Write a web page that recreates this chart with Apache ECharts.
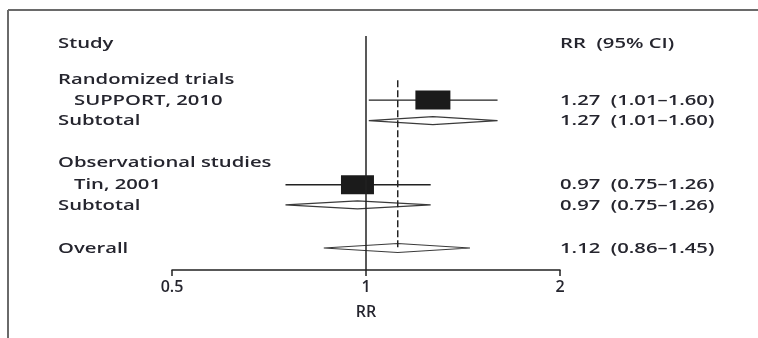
<!DOCTYPE html>
<html><head><meta charset="utf-8">
<script src="https://cdn.jsdelivr.net/npm/echarts@6/dist/echarts.min.js"></script>
<style>html,body{margin:0;padding:0;background:#fff}#c{width:758px;height:338px}</style>
</head><body><div id="c"></div>
<script>
// ---- data ----
const rowLabels = ["Study","Randomized trials","SUPPORT, 2010","Subtotal","Observational studies","Tin, 2001","Subtotal","Overall"];
const rowKinds  = ["header","group","study","subtotal","group","study","subtotal","overall"];
const rrValues  = [null,null,1.27,1.27,null,0.97,0.97,1.12];
const ciLower   = [null,null,1.01,1.01,null,0.75,0.75,0.86];
const ciUpper   = [null,null,1.60,1.60,null,1.26,1.26,1.45];
const ciHeader  = "RR  (95% CI)";
const xTickValues = [0.5, 1, 2];
const xAxisTitle = "RR";

// ---- layout ----
const rowPos = [0, 1.75, 2.77, 3.77, 5.79, 6.88, 7.86, 9.95];
const squareSize = {2: [35, 19], 5: [33, 19]};
const GRID_TOP = 36, GRID_H = 234, PITCH = 20.6;
const Y_MIN = -0.34, Y_MAX = Y_MIN + GRID_H / PITCH;
const TXT = '#25252e';
const FONT = '"Open Sans", "Noto Sans", sans-serif';
const SX = 1.35;

const overallIdx = rowKinds.indexOf('overall');
const marks = [];
rowKinds.forEach((k, i) => {
  if (rrValues[i] != null) marks.push([rrValues[i], rowPos[i], ciLower[i], ciUpper[i], k, i]);
});

const chart = echarts.init(document.getElementById('c'), null, {renderer: 'canvas'});
chart.setOption({
  animation: false,
  backgroundColor: '#fff',
  grid: {left: 172, right: 758 - 560, top: GRID_TOP, height: GRID_H},
  xAxis: {
    type: 'log', logBase: 2, min: 0.5, max: 2, interval: 1, position: 'bottom',
    axisLine: {show: true, onZero: false, lineStyle: {color: '#222', width: 1.5}},
    axisTick: {show: true, length: 6, lineStyle: {color: '#222', width: 1.5}},
    splitLine: {show: false},
    axisLabel: {
      color: TXT, fontFamily: FONT, fontSize: 16, fontWeight: 600, margin: 9,
      formatter: v => { const m = xTickValues.find(t => Math.abs(t - v) < 1e-6); return m != null ? String(m) : ''; }
    },
    name: xAxisTitle, nameLocation: 'middle', nameGap: 34,
    nameTextStyle: {color: TXT, fontFamily: FONT, fontSize: 16, fontWeight: 600}
  },
  yAxis: {type: 'value', inverse: true, min: Y_MIN, max: Y_MAX, show: false},
  series: [
    {
      type: 'custom', z: 2, silent: true,
      data: marks,
      renderItem: function (params, api) {
        const rr = api.value(0), y = api.value(1), lo = api.value(2), hi = api.value(3);
        const kind = marks[params.dataIndex][4], idx = marks[params.dataIndex][5];
        const c = api.coord([rr, y]), l = api.coord([lo, y]), h = api.coord([hi, y]);
        if (kind === 'study') {
          const sz = squareSize[idx];
          return {type: 'group', children: [
            {type: 'line', shape: {x1: l[0], y1: c[1], x2: h[0], y2: c[1]}, style: {stroke: '#222', lineWidth: 1.3}},
            {type: 'rect', shape: {x: c[0] - sz[0] / 2, y: c[1] - sz[1] / 2, width: sz[0], height: sz[1]}, style: {fill: '#1b1b1b'}}
          ]};
        }
        const hh = kind === 'overall' ? 4.5 : 4;
        return {type: 'polygon', shape: {points: [[l[0], c[1]], [c[0], c[1] - hh], [h[0], c[1]], [c[0], c[1] + hh]]},
          style: {fill: 'rgba(255,255,255,0)', stroke: '#3a3a3a', lineWidth: 1.1}};
      },
      markLine: {
        silent: true, symbol: 'none', label: {show: false},
        lineStyle: {color: '#222', width: 1.5, type: 'solid'},
        data: [{xAxis: 1}]
      }
    },
    {
      type: 'line', z: 3, silent: true, symbol: 'none',
      lineStyle: {color: '#222', width: 1.5, type: [7, 3]},
      data: [[rrValues[overallIdx], rowPos[1] + 0.06], [rrValues[overallIdx], rowPos[overallIdx] + 0.1]]
    }
  ]
});

// text columns placed on the row scale
const fmt = v => v.toFixed(2);
const gfx = [
  {type: 'line', shape: {x1: 8, y1: 10, x2: 758, y2: 10}, style: {stroke: '#6a6a6a', lineWidth: 2}},
  {type: 'line', shape: {x1: 8, y1: 10, x2: 8, y2: 338}, style: {stroke: '#6a6a6a', lineWidth: 2}}
];
const FSTR = '600 15px ' + FONT;
rowLabels.forEach((lab, i) => {
  const py = chart.convertToPixel({yAxisIndex: 0}, rowPos[i]) + 0.5;
  const indent = rowKinds[i] === 'study' ? 16 : 0;
  gfx.push({type: 'text', x: 58 + indent, y: py, scaleX: SX,
    style: {text: lab, fill: TXT, font: FSTR, verticalAlign: 'middle', align: 'left'}});
  let right = null;
  if (rowKinds[i] === 'header') right = ciHeader;
  else if (rrValues[i] != null) right = fmt(rrValues[i]) + '  (' + fmt(ciLower[i]) + '\u2013' + fmt(ciUpper[i]) + ')';
  if (right) gfx.push({type: 'text', x: 560, y: py, scaleX: SX,
    style: {text: right, fill: TXT, font: FSTR, verticalAlign: 'middle', align: 'left'}});
});
chart.setOption({graphic: gfx});
</script>
</body></html>
